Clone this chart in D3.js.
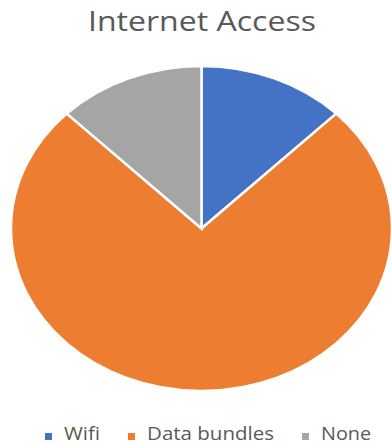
<!DOCTYPE html>
<html lang="en">
<head>
<meta charset="utf-8">
<title>Internet Access</title>
<script src="https://d3js.org/d3.v7.min.js"></script>
<style>
  body { margin: 0; background: #fff; }
  text { font-family: "Open Sans", "Liberation Sans", sans-serif; }
</style>
</head>
<body>
<script>
var categories = ["Wifi", "Data bundles", "None"];
var values = [12.5, 75, 12.5];
var colors = ["#4472C4", "#ED7D31", "#A5A5A5"];

var width = 391, height = 444;
var cx = 201.5, cy = 228.5, rx = 190.5, ry = 162.5;

var svg = d3.select("body").append("svg")
  .attr("width", width)
  .attr("height", height);

// title
svg.append("text")
  .attr("x", 88)
  .attr("y", 30.5)
  .attr("font-size", 28)
  .attr("fill", "#595959")
  .attr("textLength", 228)
  .attr("lengthAdjust", "spacingAndGlyphs")
  .text("Internet Access");

var pie = d3.pie().sort(null).value(function(d){ return d; });
var arc = d3.arc().innerRadius(0).outerRadius(ry);

// the source picture is stretched sideways, so scale x
var g = svg.append("g")
  .attr("transform", "translate(" + cx + "," + cy + ") scale(" + (rx / ry) + ",1)");

g.selectAll("path")
  .data(pie(values))
  .enter()
  .append("path")
  .attr("d", arc)
  .attr("fill", function(d, i){ return colors[i]; })
  .attr("stroke", "#fff")
  .attr("stroke-width", 2.5)
  .attr("vector-effect", "non-scaling-stroke");

// legend
var legendX = [45, 128, 302];
var legendW = [36, 127, 50];
var legend = svg.selectAll(".legend")
  .data(categories)
  .enter()
  .append("g")
  .attr("class", "legend")
  .attr("transform", function(d, i){ return "translate(" + legendX[i] + ",0)"; });

legend.append("rect")
  .attr("x", 0)
  .attr("y", 433)
  .attr("width", 7)
  .attr("height", 7)
  .attr("fill", function(d, i){ return colors[i]; });

legend.append("text")
  .attr("x", 19)
  .attr("y", 439.5)
  .attr("font-size", 17.5)
  .attr("fill", "#595959")
  .attr("textLength", function(d, i){ return legendW[i]; })
  .attr("lengthAdjust", "spacingAndGlyphs")
  .text(function(d){ return d; });
</script>
</body>
</html>
